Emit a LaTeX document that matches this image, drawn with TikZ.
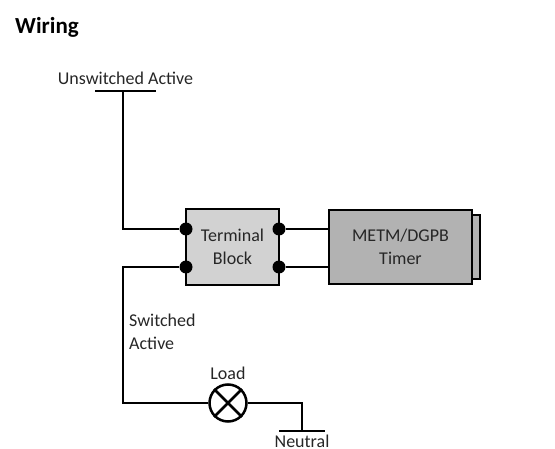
\documentclass[tikz,border=0pt]{standalone}
\usepackage{fontspec}
\setmainfont{Carlito}
\begin{document}
\begin{tikzpicture}[
            x=1pt, y=-1pt,
            wire/.style={black, line width=2pt},
            block/.style={rectangle, draw=black, line width=2pt, fill=gray!35, minimum width=93pt, minimum height=76pt, align=center, font=\fontsize{18}{23}\selectfont, text=black!85},
            timer/.style={block, fill=gray!60, minimum width=143pt, minimum height=74pt},
            tab/.style={rectangle, draw=black, line width=1.5pt, fill=gray!60, minimum width=8pt, minimum height=64pt},
            dot/.style={circle, fill=black, inner sep=0pt, minimum size=13pt},
            lamp/.style={circle, draw=black, line width=2.5pt, fill=white, inner sep=0pt, minimum size=37pt},
            lbl/.style={font=\fontsize{18}{23}\selectfont, text=black!85, inner sep=0pt},
        ]
            \useasboundingbox (0,0) rectangle (555,449);
            \node[lbl, font=\fontsize{23}{27}\selectfont\bfseries, text=black, anchor=west](title) at (15,27) {Wiring};
            \node[lbl](activelabel) at (125.5,78) {Unswitched Active};
            \coordinate (activeleft) at (95,91);
            \coordinate (activeright) at (156,91);
            \coordinate (activejoin) at (123,91);
            \node[tab](tabnode) at (476,247) {};
            \node[timer](timernode) at (400.5,247) {METM/DGPB\\Timer};
            \node[block](blocknode) at (232.5,247) {Terminal\\Block};
            \node[dot](dotA) at (186,229) {};
            \node[dot](dotB) at (186,267) {};
            \node[dot](dotC) at (279,229) {};
            \node[dot](dotD) at (279,267) {};
            \node[lamp](loadnode) at (228,403) {};
            \node[lbl](loadlabel) at (228,373) {Load};
            \node[lbl, anchor=west](switchedlabel) at (129,320) {Switched};
            \node[lbl, anchor=west](activelabelB) at (129,343) {Active};
            \coordinate (neutralleft) at (279,431);
            \coordinate (neutralright) at (325,431);
            \coordinate (neutraljoin) at (302,431);
            \node[lbl](neutrallabel) at (302,441) {Neutral};
            \draw[wire] (activeleft) -- (activeright);
            \draw[wire] (activejoin) |- (dotA);
            \draw[wire] (dotB) -- (123,267) |- (loadnode.west);
            \draw[wire] (loadnode.east) -| (neutraljoin);
            \draw[wire] (neutralleft) -- (neutralright);
            \draw[wire] (dotC) -- (dotC -| timernode.west);
            \draw[wire] (dotD) -- (dotD -| timernode.west);
            \draw[wire, line width=2.5pt] (loadnode.45) -- (loadnode.225);
            \draw[wire, line width=2.5pt] (loadnode.135) -- (loadnode.315);
        \end{tikzpicture}
\end{document}
